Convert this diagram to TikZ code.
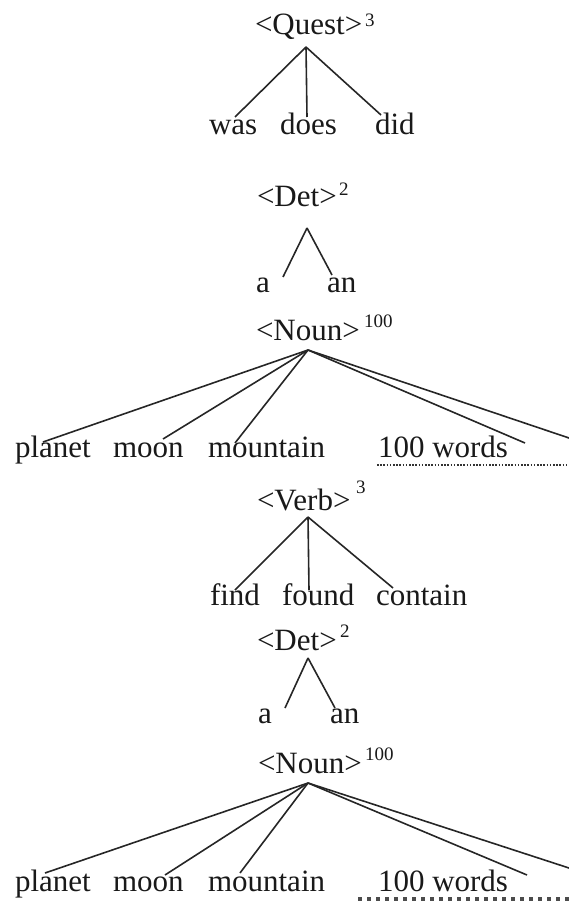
\documentclass[tikz,border=0pt]{standalone}
\usepackage{fontspec}
\setmainfont{Liberation Serif}
\begin{document}
\begin{tikzpicture}[x=1pt,y=-1pt,
  word/.style={anchor=base west,inner sep=0pt,outer sep=0pt,font=\fontsize{31}{36}\selectfont,text=black!90},
  supnum/.style={anchor=base west,inner sep=0pt,outer sep=0pt,font=\fontsize{19}{22}\selectfont,text=black!90},
  branch/.style={draw=black!85,line width=1.6pt},
  finedots/.style={draw=black!80,line width=1.6pt,dash pattern=on 1.6pt off 1.6pt},
  squaredots/.style={draw=black!70,line width=3.6pt,dash pattern=on 4pt off 5pt}
]
\useasboundingbox (0,0) rectangle (569,904);

% ---------- Quest ----------
\node[word] (quest) at (255,35) {<Quest>};
\node[supnum] (questn) at (365,27) {3};
\coordinate (qa) at (306,47);
\node[word] (was) at (209,135) {was};
\node[word] (does) at (280,135) {does};
\node[word] (did) at (375,135) {did};
\coordinate (qe1) at (235,117);
\coordinate (qe2) at (307,117);
\coordinate (qe3) at (381,115);
\draw[branch] (qa) -- (qe1);
\draw[branch] (qa) -- (qe2);
\draw[branch] (qa) -- (qe3);

% ---------- Det 1 ----------
\node[word] (det1) at (257,207) {<Det>};
\node[supnum] (det1n) at (339,196) {2};
\coordinate (d1a) at (307,228);
\node[word] (a1) at (256,292) {a};
\node[word] (an1) at (327,292) {an};
\coordinate (d1e1) at (283,277);
\coordinate (d1e2) at (332,275);
\draw[branch] (d1a) -- (d1e1);
\draw[branch] (d1a) -- (d1e2);

% ---------- Noun 1 ----------
\node[word] (noun1) at (256,340) {<Noun>};
\node[supnum] (noun1n) at (364,327) {100};
\coordinate (n1a) at (308,350);
\node[word] (planet1) at (15,457) {planet};
\node[word] (moon1) at (113,457) {moon};
\node[word] (mountain1) at (208,457) {mountain};
\node[word] (words1) at (378,457) {100 words};
\coordinate (n1e1) at (43,442);
\coordinate (n1e2) at (163,439);
\coordinate (n1e3) at (235,443);
\coordinate (n1e4) at (525,443);
\coordinate (n1e5) at (569,438);
\coordinate (n1s) at (377,465);
\coordinate (n1t) at (569,465);
\draw[branch] (n1a) -- (n1e1);
\draw[branch] (n1a) -- (n1e2);
\draw[branch] (n1a) -- (n1e3);
\draw[branch] (n1a) -- (n1e4);
\draw[branch] (n1a) -- (n1e5);
\draw[finedots] (n1s) -- (n1t);

% ---------- Verb ----------
\node[word] (verb) at (257,510) {<Verb>};
\node[supnum] (verbn) at (356,493) {3};
\coordinate (va) at (308,517);
\node[word] (find) at (210,605) {find};
\node[word] (found) at (282,605) {found};
\node[word] (contain) at (376,605) {contain};
\coordinate (ve1) at (235,590);
\coordinate (ve2) at (309,590);
\coordinate (ve3) at (393,588);
\draw[branch] (va) -- (ve1);
\draw[branch] (va) -- (ve2);
\draw[branch] (va) -- (ve3);

% ---------- Det 2 ----------
\node[word] (det2) at (257,650) {<Det>};
\node[supnum] (det2n) at (340,637) {2};
\coordinate (d2a) at (308,658);
\node[word] (a2) at (258,723) {a};
\node[word] (an2) at (330,723) {an};
\coordinate (d2e1) at (285,708);
\coordinate (d2e2) at (335,708);
\draw[branch] (d2a) -- (d2e1);
\draw[branch] (d2a) -- (d2e2);

% ---------- Noun 2 ----------
\node[word] (noun2) at (258,773) {<Noun>};
\node[supnum] (noun2n) at (365,760) {100};
\coordinate (n2a) at (308,783);
\node[word] (planet2) at (15,891) {planet};
\node[word] (moon2) at (113,891) {moon};
\node[word] (mountain2) at (208,891) {mountain};
\node[word] (words2) at (378,891) {100 words};
\coordinate (n2e1) at (45,873);
\coordinate (n2e2) at (165,875);
\coordinate (n2e3) at (240,873);
\coordinate (n2e4) at (527,875);
\coordinate (n2e5) at (569,868);
\coordinate (n2s) at (358,899);
\coordinate (n2t) at (569,899);
\draw[branch] (n2a) -- (n2e1);
\draw[branch] (n2a) -- (n2e2);
\draw[branch] (n2a) -- (n2e3);
\draw[branch] (n2a) -- (n2e4);
\draw[branch] (n2a) -- (n2e5);
\draw[squaredots] (n2s) -- (n2t);
\end{tikzpicture}
\end{document}
